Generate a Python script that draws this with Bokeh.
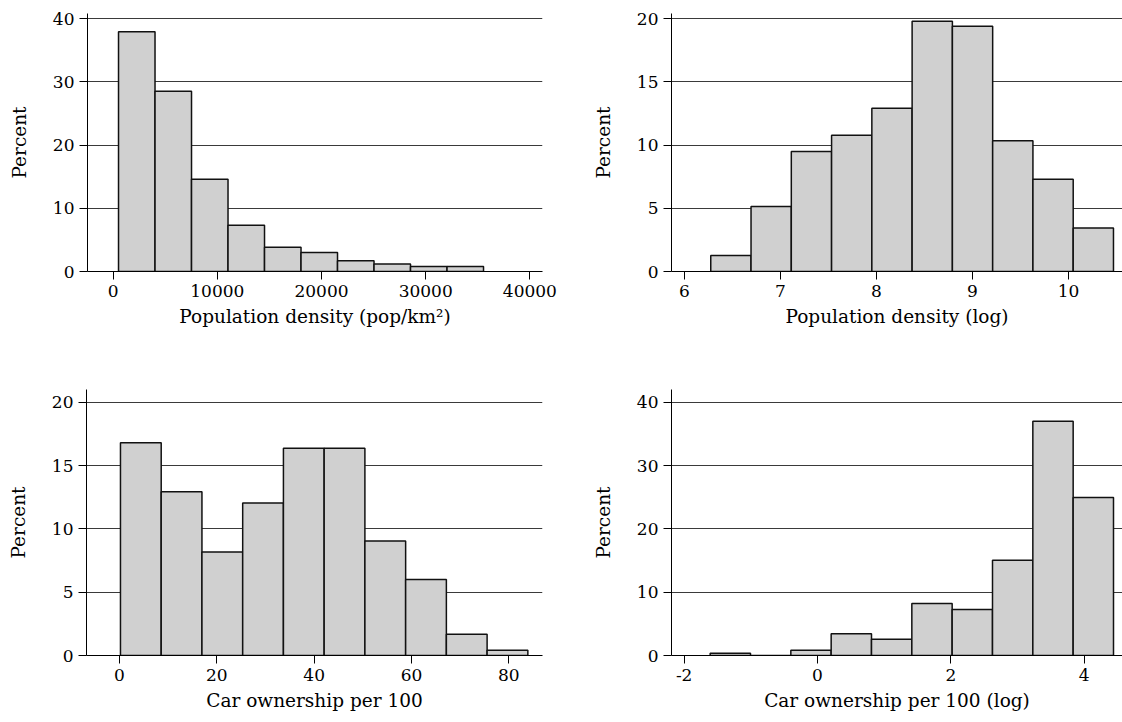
import numpy as np
from bokeh.plotting import figure
from bokeh.layouts import column, row
from bokeh.models import Range1d, FixedTicker
from bokeh.embed import file_html
from bokeh.resources import INLINE

# ---- data (percent per bin) ----
dens_start, dens_width = 520, 3503
dens_pct = [37.9, 28.5, 14.6, 7.3, 3.85, 3.0, 1.7, 1.2, 0.8, 0.8]
dens_xticks = [0, 10000, 20000, 30000, 40000]
dens_yticks = [0, 10, 20, 30, 40]

ldens_start, ldens_width = 6.274, 0.4195
ldens_pct = [1.26, 5.14, 9.49, 10.78, 12.91, 19.79, 19.39, 10.33, 7.30, 3.43]
ldens_xticks = [6, 7, 8, 9, 10]
ldens_yticks = [0, 5, 10, 15, 20]

car_start, car_width = 0.2, 8.37
car_pct = [16.79, 12.93, 8.17, 12.04, 16.36, 16.36, 9.03, 6.0, 1.68, 0.42]
car_xticks = [0, 20, 40, 60, 80]
car_yticks = [0, 5, 10, 15, 20]

lcar_start, lcar_width = -1.61, 0.605
lcar_pct = [0.37, 0.0, 0.84, 3.42, 2.58, 8.21, 7.26, 15.05, 37.0, 24.95]
lcar_xticks = [-2, 0, 2, 4]
lcar_xlabels = ["-2", "0", "2", "4"]
lcar_yticks = [0, 10, 20, 30, 40]

FONT = "DejaVu Serif"


def panel(start, width, pct, xticks, yticks, xlabel, xr, yr, W, H, bl, br, bt, bb,
          xlabels=None):
    p = figure(width=W, height=H, x_range=Range1d(*xr), y_range=Range1d(*yr),
               output_backend="svg", toolbar_location=None,
               min_border_left=bl, min_border_right=br,
               min_border_top=bt, min_border_bottom=bb)
    n = len(pct)
    left = [start + width * i for i in range(n)]
    right = [start + width * (i + 1) for i in range(n)]
    p.quad(left=left, right=right, bottom=0, top=pct,
           fill_color="#d0d0d0", line_color="#111111", line_width=1.5)
    p.xgrid.visible = False
    p.ygrid.ticker = FixedTicker(ticks=yticks)
    p.ygrid.grid_line_color = "#3a3a3a"
    p.ygrid.grid_line_width = 1
    p.xaxis.ticker = FixedTicker(ticks=xticks)
    p.yaxis.ticker = FixedTicker(ticks=yticks)
    if xlabels is not None:
        p.xaxis.major_label_overrides = {t: l for t, l in zip(xticks, xlabels)}
    p.outline_line_color = None
    p.background_fill_color = "white"
    p.border_fill_color = "white"
    for ax in (p.xaxis[0], p.yaxis[0]):
        ax.minor_tick_line_color = None
        ax.major_tick_in = 0
        ax.major_tick_out = 8
        ax.major_tick_line_color = "black"
        ax.axis_line_color = "black"
        ax.major_label_text_font = FONT
        ax.major_label_text_font_size = "17px"
        ax.major_label_text_color = "black"
        ax.axis_label_text_font = FONT
        ax.axis_label_text_font_size = "18.5px"
        ax.axis_label_text_font_style = "normal"
        ax.axis_label_text_color = "black"
        ax.major_label_standoff = 5
    p.xaxis.axis_label = xlabel
    p.yaxis.axis_label = "Percent"
    p.xaxis.axis_label_standoff = 6
    p.yaxis.axis_label_standoff = 20
    p.yaxis.major_label_orientation = "horizontal"
    return p


p1 = panel(dens_start, dens_width, dens_pct, dens_xticks, dens_yticks,
           "Population density (pop/km²)", (-2457, 41210), (0, 40.8),
           560, 361, 87, 18, 13, 90)
p2 = panel(ldens_start, ldens_width, ldens_pct, ldens_xticks, ldens_yticks,
           "Population density (log)", (5.865, 10.563), (0, 20.4),
           562, 361, 111, 0, 13, 90)
p3 = panel(car_start, car_width, car_pct, car_xticks, car_yticks,
           "Car ownership per 100", (-6.78, 86.91), (0, 21.0),
           560, 361, 86, 18, 28, 67)
p4 = panel(lcar_start, lcar_width, lcar_pct, lcar_xticks, lcar_yticks,
           "Car ownership per 100 (log)", (-2.19, 4.575), (0, 42.0),
           562, 361, 111, 0, 28, 67, xlabels=lcar_xlabels)

layout = column(row(p1, p2), row(p3, p4))
open("out.html", "w").write(file_html(layout, INLINE))
